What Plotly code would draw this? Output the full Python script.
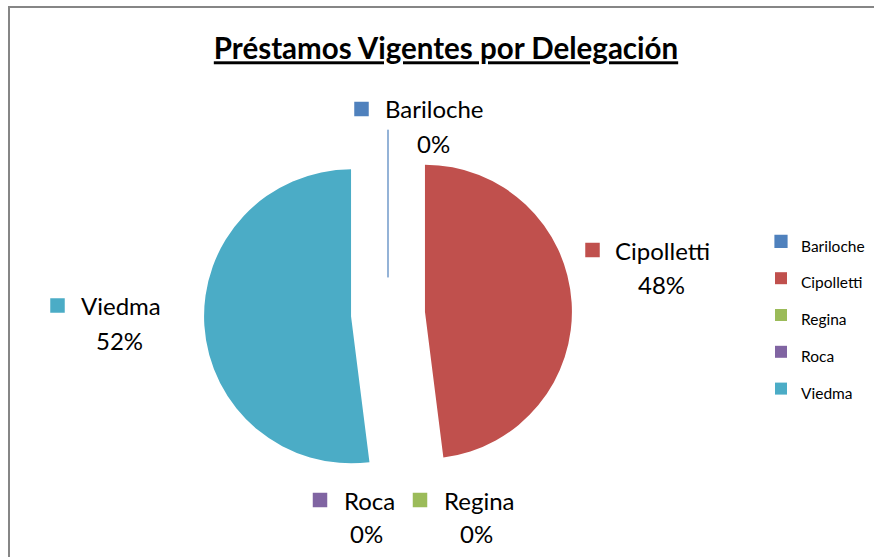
import plotly.graph_objects as go

# ---- data ----
names = ["Bariloche", "Cipolletti", "Regina", "Roca", "Viedma"]
values = [0, 48, 0, 0, 52]
colors = ["#4F81BD", "#C0504D", "#9BBB59", "#8064A2", "#4BACC6"]
title_text = "Préstamos Vigentes por Delegación"

# ---- layout helpers (pixel positions -> paper) ----
W, H = 874, 557
def px(x):
    return x / W
def py(y):
    return 1 - y / H

# label placement (pixels): square center, name left x, name center y, pct center x, pct center y
label_pos = {
    "Bariloche": (361.5, 109, 383, 109, 433, 143.5),
    "Cipolletti": (592.5, 250, 613, 250, 661, 284),
    "Regina": (420, 500, 442, 500, 476, 533),
    "Roca": (320, 500, 342, 500, 366.5, 533),
    "Viedma": (57.5, 305.5, 79, 305.5, 119, 340),
}

FONT = "Lato, Calibri, Arial, sans-serif"
total = sum(values)

legend_labels = [f"<span style='font-size:15.5px'>{n}</span>" for n in names]

fig = go.Figure(
    go.Pie(
        labels=legend_labels,
        values=values,
        sort=False,
        direction="clockwise",
        rotation=0,
        pull=[0.252] * len(values),
        marker=dict(colors=colors,
                    line=dict(color=colors, width=[1.2, 0, 0, 0, 0])),
        textinfo="none",
        hoverinfo="label+percent",
        domain=dict(x=[px(204), px(572)], y=[py(498), py(130)]),
    )
)

annotations = []
shapes = []
sq = 14.5
for n, v, c in zip(names, values, colors):
    sx, sy, nx, ny, pxx, pyy = label_pos[n]
    pct = round(v / total * 100) if total else 0
    shapes.append(dict(type="rect", xref="paper", yref="paper",
                       x0=px(sx - sq / 2), x1=px(sx + sq / 2),
                       y0=py(sy + sq / 2), y1=py(sy - sq / 2),
                       fillcolor=c, line=dict(width=0)))
    annotations.append(dict(text=n, x=px(nx), y=py(ny), xref="paper", yref="paper",
                            xanchor="left", yanchor="middle", showarrow=False,
                            font=dict(family=FONT, size=24, color="#000000")))
    annotations.append(dict(text=f"{pct}%", x=px(pxx), y=py(pyy), xref="paper", yref="paper",
                            xanchor="center", yanchor="middle", showarrow=False,
                            font=dict(family=FONT, size=24, color="#000000")))

# chart border
shapes.append(dict(type="rect", xref="paper", yref="paper",
                   x0=px(9), x1=1.05, y0=-0.05, y1=py(7),
                   line=dict(color="#868686", width=2), fillcolor="rgba(0,0,0,0)"))

fig.update_layout(
    width=W, height=H,
    margin=dict(l=0, r=0, t=0, b=0),
    paper_bgcolor="white",
    plot_bgcolor="white",
    title=dict(text=f"<b><u>{title_text}</u></b>", x=px(446), y=py(49),
               xanchor="center", yanchor="middle",
               font=dict(family=FONT, size=29.5, color="#000000")),
    legend=dict(x=px(761), y=py(218), xanchor="left", yanchor="top",
                font=dict(family=FONT, size=26, color="#000000"),
                bgcolor="rgba(0,0,0,0)", borderwidth=0),
    annotations=annotations,
    shapes=shapes,
)

fig.write_html("out.html",
               config={"displayModeBar": False},
               post_script="document.body.style.margin='0';document.body.style.overflow='hidden';")
